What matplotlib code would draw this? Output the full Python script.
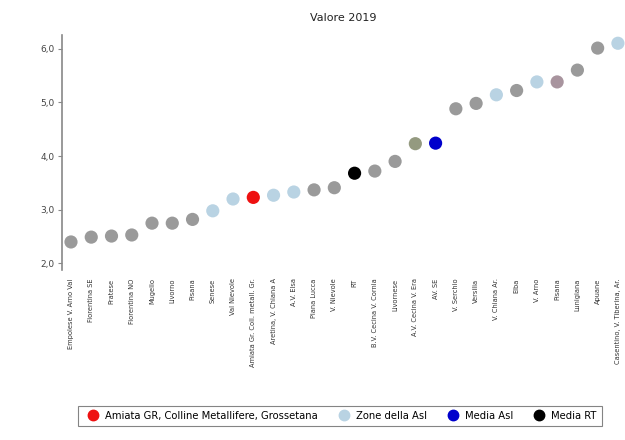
import matplotlib.pyplot as plt
from matplotlib.lines import Line2D

zone = ['Empolese V. Arno Val', 'Fiorentina SE', 'Pratese', 'Fiorentina NO', 'Mugello',
        'Livorno', 'Pisana', 'Senese', 'Val Nievole', 'Amiata Gr. Coll. metall. Gr.',
        'Aretina, V. Chiana A', 'A.V. Elsa', 'Piana Lucca', 'V. Nievole', 'RT',
        'B.V. Cecina V. Cornia', 'Livornese', 'A.V. Cecina V. Era', 'AV. SE', 'V. Serchio',
        'Versilia', 'V. Chiana Ar.', 'Elba', 'V. Arno', 'Pisana', 'Lunigiana', 'Apuane',
        'Casentino, V. Tiberina, Ar.']
valori = [2.40, 2.49, 2.51, 2.53, 2.75, 2.75, 2.82, 2.98, 3.20, 3.23,
          3.27, 3.33, 3.37, 3.41, 3.68, 3.72, 3.90, 4.23, 4.24, 4.88,
          4.98, 5.14, 5.22, 5.38, 5.38, 5.60, 6.01, 6.10]
gruppo = ['z', 'z', 'z', 'z', 'z', 'z', 'z', 'asl', 'asl', 'amiata',
          'asl', 'asl', 'z', 'z', 'rt', 'z', 'z', 'olive', 'av', 'z',
          'z', 'asl', 'z', 'asl', 'mauve', 'z', 'z', 'asl']

colori = {'z': '#9a9a9a', 'asl': '#b9d3e3', 'amiata': '#ee1111', 'av': '#0000cc',
          'rt': '#000000', 'olive': '#949a80', 'mauve': '#a8949e'}

fig = plt.figure(figsize=(6.25, 4.4), dpi=100)
ax = fig.add_axes([0.099, 0.386, 0.901, 0.534])

x = list(range(len(zone)))
ax.scatter(x, valori, c=[colori[g] for g in gruppo], s=90, zorder=3, linewidths=0)

ax.set_xlim(-0.45, 27.35)
ax.set_ylim(1.875, 6.25)
ax.set_yticks([2, 3, 4, 5, 6])
ax.set_yticklabels(['2,0', '3,0', '4,0', '5,0', '6,0'], fontsize=6.5, color='#444444')
ax.set_xticks(x)
ax.set_xticklabels(zone, rotation=90, fontsize=4.8, color='#333333')
ax.tick_params(axis='x', length=0, pad=6)
ax.tick_params(axis='y', length=3, color='#888888', pad=2)
for s in ['top', 'right', 'bottom']:
    ax.spines[s].set_visible(False)
ax.spines['left'].set_color('#888888')
ax.spines['left'].set_linewidth(1.2)
ax.set_title('Valore 2019', fontsize=8, color='#222222', pad=10)

handles = [Line2D([], [], marker='o', ls='', color=colori['amiata'], markersize=7.5),
           Line2D([], [], marker='o', ls='', color=colori['asl'], markersize=7.5),
           Line2D([], [], marker='o', ls='', color=colori['av'], markersize=7.5),
           Line2D([], [], marker='o', ls='', color=colori['rt'], markersize=7.5)]
labels = ['Amiata GR, Colline Metallifere, Grossetana', 'Zone della Asl', 'Media Asl', 'Media RT']
leg = fig.legend(handles, labels, loc='center', bbox_to_anchor=(0.544, 0.055), ncol=4,
                 fontsize=7.2, frameon=True, fancybox=False, edgecolor='#666666',
                 handletextpad=0.2, columnspacing=1.6, borderpad=0.5, borderaxespad=0)
leg.get_frame().set_linewidth(0.8)

fig.savefig('out.png', dpi=100)
